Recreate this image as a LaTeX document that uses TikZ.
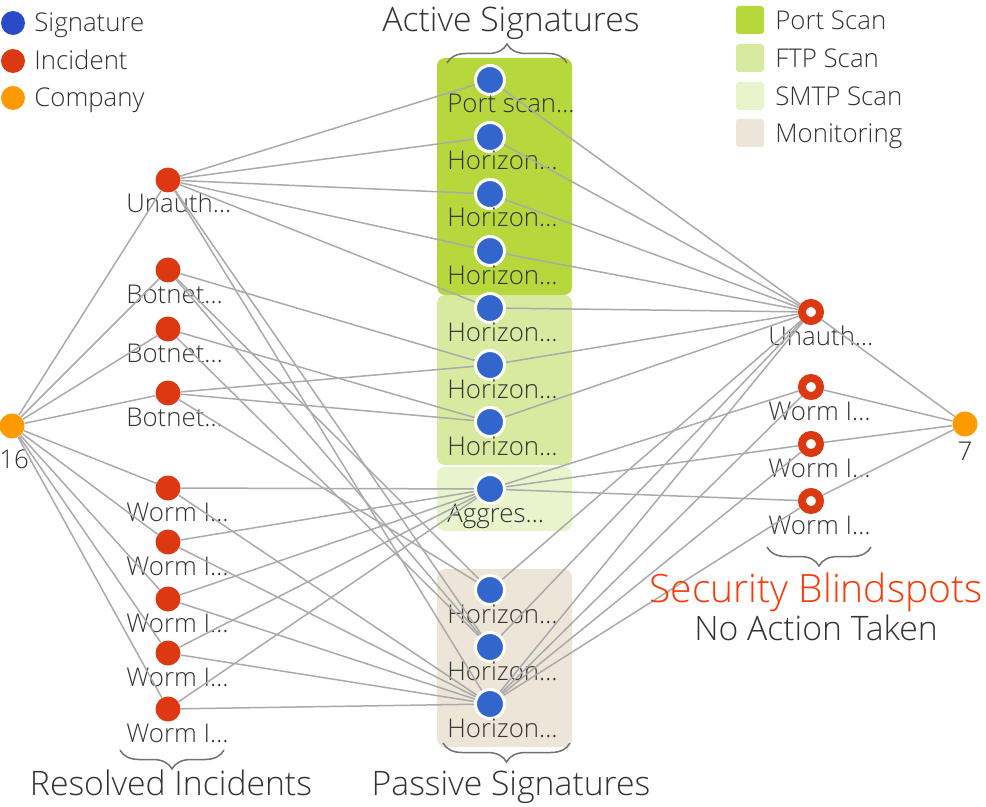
\documentclass[tikz,border=0pt]{standalone}
\usepackage{fontspec}
\setmainfont{Open Sans}[UprightFont={* Light}]
\usepackage{tikz}
\usetikzlibrary{decorations.pathreplacing}

\definecolor{sigblue}{HTML}{3366CC}
\definecolor{legblue}{HTML}{2A4BC8}
\definecolor{incred}{HTML}{DC3912}
\definecolor{comporange}{HTML}{FF9900}
\definecolor{portgreen}{HTML}{B6D83D}
\definecolor{ftpgreen}{HTML}{D8EA9F}
\definecolor{smtpgreen}{HTML}{E9F4CD}
\definecolor{monbeige}{HTML}{EDE5D8}
\definecolor{linkgray}{HTML}{AAAAAA}
\definecolor{txtgray}{HTML}{333333}
\definecolor{blindred}{HTML}{F83A08}
\definecolor{bracegray}{HTML}{707070}

\tikzset{
	sig/.style={shape=circle,fill=sigblue,draw=white,line width=0.06cm,minimum size=0.58cm,inner sep=0pt},
	inc/.style={shape=circle,fill=incred,minimum size=0.5cm,inner sep=0pt},
	comp/.style={shape=circle,fill=comporange,minimum size=0.5cm,inner sep=0pt},
	blind/.style={shape=circle,fill=white,draw=incred,line width=0.16cm,minimum size=0.36cm,inner sep=0pt},
	lbl/.style={anchor=base west,inner sep=0pt,text=txtgray,font=\fontsize{14.7}{17}\selectfont},
	title/.style={anchor=base,inner sep=0pt,text=txtgray,font=\fontsize{19.2}{23}\selectfont},
	link/.style={draw=linkgray,line width=0.03cm},
	grp/.style={rounded corners=0.16cm},
	brc/.style={draw=bracegray,line width=0.03cm,decorate,decoration={brace,amplitude=0.38cm}},
	legbox/.style={rounded corners=0.06cm,minimum size=0.56cm,inner sep=0pt}
}

\begin{document}
\begin{tikzpicture}[x=0.02cm,y=-0.02cm]
		\useasboundingbox (0,0) rectangle (986,807);
		% signature groups
		\fill [grp,portgreen] (437,58) rectangle (572,295);
		\fill [grp,ftpgreen] (437,295) rectangle (572,465);
		\fill [grp,smtpgreen] (437,467) rectangle (572,531);
		\fill [grp,monbeige] (437,569) rectangle (572,747);
		% legend
		\node [shape=circle,fill=legblue,minimum size=0.48cm,inner sep=0pt] (kSig) at (13,23) {};
		\node [lbl] (kSigT) at (34,32) {Signature};
		\node [shape=circle,fill=incred,minimum size=0.48cm,inner sep=0pt] (kInc) at (13,61) {};
		\node [lbl] (kIncT) at (34,70) {Incident};
		\node [shape=circle,fill=comporange,minimum size=0.48cm,inner sep=0pt] (kComp) at (13,98) {};
		\node [lbl] (kCompT) at (34,107) {Company};
		\node [legbox,fill=portgreen] (kPort) at (750,20) {};
		\node [lbl] (kPortT) at (775,30) {Port Scan};
		\node [legbox,fill=ftpgreen] (kFtp) at (750,58) {};
		\node [lbl] (kFtpT) at (775,68) {FTP Scan};
		\node [legbox,fill=smtpgreen] (kSmtp) at (750,96) {};
		\node [lbl] (kSmtpT) at (775,106) {SMTP Scan};
		\node [legbox,fill=monbeige] (kMon) at (750,133) {};
		\node [lbl] (kMonT) at (775,143) {Monitoring};
		% companies
		\node [comp] (c16) at (12,426) {};
		\node [lbl,anchor=base] (c16t) at (14,468) {16};
		\node [comp] (c7) at (965,424) {};
		\node [lbl,anchor=base] (c7t) at (965,460) {7};
		% resolved incidents
		\node [inc] (i1) at (168,180) {};
		\node [lbl] (i1t) at (126,213) {Unauth…};
		\node [inc] (i2) at (168,270) {};
		\node [lbl] (i2t) at (126,303) {Botnet…};
		\node [inc] (i3) at (168,329) {};
		\node [lbl] (i3t) at (126,362) {Botnet…};
		\node [inc] (i4) at (168,393) {};
		\node [lbl] (i4t) at (126,426) {Botnet…};
		\node [inc] (i5) at (168,488) {};
		\node [lbl] (i5t) at (126,521) {Worm I…};
		\node [inc] (i6) at (168,542) {};
		\node [lbl] (i6t) at (126,575) {Worm I…};
		\node [inc] (i7) at (168,599) {};
		\node [lbl] (i7t) at (126,632) {Worm I…};
		\node [inc] (i8) at (168,653) {};
		\node [lbl] (i8t) at (126,686) {Worm I…};
		\node [inc] (i9) at (168,709) {};
		\node [lbl] (i9t) at (126,742) {Worm I…};
		% signatures
		\node [sig] (s1) at (490,80) {};
		\node [lbl] (s1t) at (447,113) {Port scan…};
		\node [sig] (s2) at (490,137) {};
		\node [lbl] (s2t) at (447,170) {Horizon…};
		\node [sig] (s3) at (490,194) {};
		\node [lbl] (s3t) at (447,227) {Horizon…};
		\node [sig] (s4) at (490,251) {};
		\node [lbl] (s4t) at (447,284) {Horizon…};
		\node [sig] (s5) at (490,308) {};
		\node [lbl] (s5t) at (447,341) {Horizon…};
		\node [sig] (s6) at (490,365) {};
		\node [lbl] (s6t) at (447,398) {Horizon…};
		\node [sig] (s7) at (490,422) {};
		\node [lbl] (s7t) at (447,455) {Horizon…};
		\node [sig] (s8) at (490,489) {};
		\node [lbl] (s8t) at (447,522) {Aggres…};
		\node [sig] (s9) at (490,590) {};
		\node [lbl] (s9t) at (447,623) {Horizon…};
		\node [sig] (s10) at (490,647) {};
		\node [lbl] (s10t) at (447,680) {Horizon…};
		\node [sig] (s11) at (490,704) {};
		\node [lbl] (s11t) at (447,737) {Horizon…};
		% blindspots
		\node [blind] (b1) at (811,312) {};
		\node [lbl] (b1t) at (768,345) {Unauth…};
		\node [blind] (b2) at (811,387) {};
		\node [lbl] (b2t) at (768,420) {Worm I…};
		\node [blind] (b3) at (811,444) {};
		\node [lbl] (b3t) at (768,477) {Worm I…};
		\node [blind] (b4) at (811,501) {};
		\node [lbl] (b4t) at (768,534) {Worm I…};
		% links
		\draw [link] (c16) -- (i1);
		\draw [link] (c16) -- (i2);
		\draw [link] (c16) -- (i3);
		\draw [link] (c16) -- (i4);
		\draw [link] (c16) -- (i5);
		\draw [link] (c16) -- (i6);
		\draw [link] (c16) -- (i7);
		\draw [link] (c16) -- (i8);
		\draw [link] (c16) -- (i9);
		\draw [link] (i1) -- (s1);
		\draw [link] (i1) -- (s2);
		\draw [link] (i1) -- (s3);
		\draw [link] (i1) -- (s4);
		\draw [link] (i1) -- (s5);
		\draw [link] (i1) -- (s10);
		\draw [link] (i1) -- (s11);
		\draw [link] (i2) -- (s6);
		\draw [link] (i2) -- (s9);
		\draw [link] (i2) -- (s10);
		\draw [link] (i3) -- (s7);
		\draw [link] (i3) -- (s10);
		\draw [link] (i4) -- (s6);
		\draw [link] (i4) -- (s7);
		\draw [link] (i4) -- (s9);
		\draw [link] (i5) -- (s8);
		\draw [link] (i5) -- (s11);
		\draw [link] (i6) -- (s8);
		\draw [link] (i6) -- (s11);
		\draw [link] (i7) -- (s8);
		\draw [link] (i7) -- (s11);
		\draw [link] (i8) -- (s8);
		\draw [link] (i8) -- (s11);
		\draw [link] (i9) -- (s8);
		\draw [link] (i9) -- (s11);
		\draw [link] (s1) -- (b1);
		\draw [link] (s2) -- (b1);
		\draw [link] (s3) -- (b1);
		\draw [link] (s4) -- (b1);
		\draw [link] (s5) -- (b1);
		\draw [link] (s6) -- (b1);
		\draw [link] (s7) -- (b1);
		\draw [link] (s8) -- (b2);
		\draw [link] (s8) -- (b3);
		\draw [link] (s8) -- (b4);
		\draw [link] (s9) -- (b1);
		\draw [link] (s10) -- (b1);
		\draw [link] (s11) -- (b1);
		\draw [link] (s11) -- (b2);
		\draw [link] (s11) -- (b3);
		\draw [link] (s11) -- (b4);
		\draw [link] (b1) -- (c7);
		\draw [link] (b2) -- (c7);
		\draw [link] (b3) -- (c7);
		\draw [link] (b4) -- (c7);
		% titles and braces
		\draw [brc] (447,63) -- (567,63);
		\node [title] (actT) at (511,32) {Active Signatures};
		\draw [brc] (570,743) -- (443,743);
		\node [title] (pasT) at (511,795) {Passive Signatures};
		\draw [brc] (224,750) -- (120,750);
		\node [title] (resT) at (171,795) {Resolved Incidents};
		\draw [brc] (871,547) -- (767,547);
		\node [title,text=blindred,font=\fontsize{22.2}{26}\selectfont] (blsT) at (816,602) {Security Blindspots};
		\node [title] (noaT) at (816,640) {No Action Taken};
\end{tikzpicture}
\end{document}
